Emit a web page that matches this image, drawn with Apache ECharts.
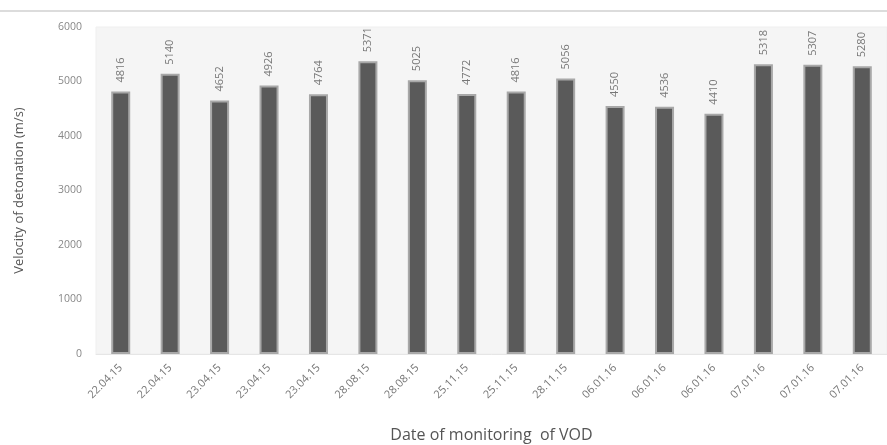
<!DOCTYPE html>
<html>
<head>
<meta charset="utf-8">
<script src="https://cdn.jsdelivr.net/npm/echarts@6/dist/echarts.min.js"></script>
<style>
  html, body { margin: 0; padding: 0; background: #fff; }
  #main { width: 887px; height: 445px; }
</style>
</head>
<body>
<div id="main"></div>
<script>
// dates of monitoring (x axis)
var dates = ['22.04.15', '22.04.15', '23.04.15', '23.04.15', '23.04.15', '28.08.15', '28.08.15',
  '25.11.15', '25.11.15', '28.11.15', '06.01.16', '06.01.16', '06.01.16', '07.01.16', '07.01.16', '07.01.16'];
// velocity of detonation, m/s
var vod = [4816, 5140, 4652, 4926, 4764, 5371, 5025, 4772, 4816, 5056, 4550, 4536, 4410, 5318, 5307, 5280];

var myChart = echarts.init(document.getElementById('main'));
var option = {
  backgroundColor: '#ffffff',
  animation: false,
  graphic: [{
    type: 'line',
    shape: { x1: 0, y1: 11, x2: 887, y2: 11 },
    style: { stroke: '#dcdcdc', lineWidth: 2 }
  }],
  grid: {
    left: 96,
    right: 0,
    top: 27,
    bottom: 91,
    outerBoundsMode: 'none',
    containLabel: false,
    show: true,
    backgroundColor: '#f5f5f5',
    borderColor: '#efefef',
    borderWidth: 1
  },
  xAxis: {
    type: 'category',
    data: dates,
    name: 'Date of monitoring  of VOD',
    nameLocation: 'middle',
    nameGap: 73,
    nameTextStyle: { color: '#555', fontSize: 16, fontFamily: 'Open Sans' },
    axisLine: { lineStyle: { color: '#e6e6e6' } },
    axisTick: { show: false },
    axisLabel: {
      rotate: 45,
      margin: 12,
      interval: 0,
      color: '#777',
      fontSize: 11,
      fontFamily: 'Open Sans'
    }
  },
  yAxis: {
    type: 'value',
    min: 0,
    max: 6000,
    interval: 1000,
    name: 'Velocity of detonation (m/s)',
    nameLocation: 'middle',
    nameGap: 70,
    nameTextStyle: { color: '#555', fontSize: 13, fontFamily: 'Open Sans' },
    axisLine: { show: false },
    axisTick: { show: false },
    splitLine: { show: false },
    axisLabel: {
      color: '#888', fontSize: 10.5, margin: 14, fontFamily: 'Open Sans',
      formatter: function (v) { return String(v); }
    }
  },
  series: [{
    type: 'bar',
    data: vod,
    barWidth: 19,
    itemStyle: {
      color: '#5a5a5a',
      borderColor: '#a8a8a8',
      borderWidth: 2
    },
    label: {
      show: true,
      position: 'top',
      rotate: 90,
      align: 'left',
      verticalAlign: 'middle',
      distance: 9,
      color: '#777',
      fontSize: 11,
      fontFamily: 'Open Sans'
    }
  }]
};
myChart.setOption(option);
</script>
</body>
</html>
